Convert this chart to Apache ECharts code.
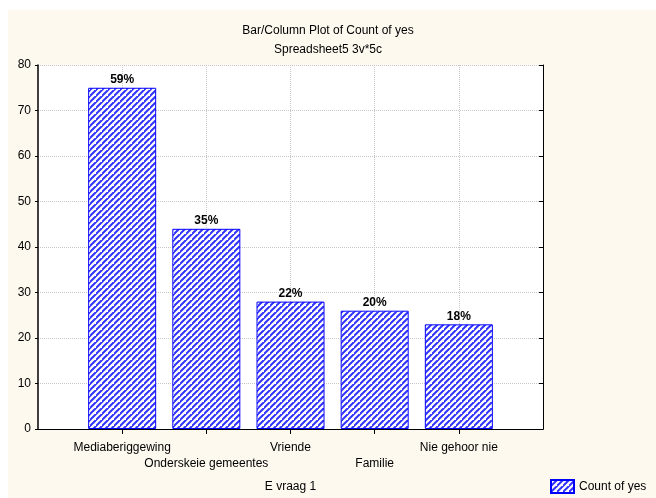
<!DOCTYPE html>
<html>
<head>
<meta charset="utf-8">
<script src="https://cdn.jsdelivr.net/npm/echarts@6/dist/echarts.min.js"></script>
<style>
html,body{margin:0;padding:0;background:#fff;}
#c{width:656px;height:498px;}
</style>
</head>
<body>
<div id="c"></div>
<script>
var categories = ['Mediaberiggewing', 'Onderskeie gemeentes', 'Vriende', 'Familie', 'Nie gehoor nie'];
var counts = [75, 44, 28, 26, 23];
var percentLabels = ['59%', '35%', '22%', '20%', '18%'];
var yTicks = [0, 10, 20, 30, 40, 50, 60, 70, 80];

var axisCats = [''].concat(categories).concat(['']);

function makePattern() {
  var s = 6;
  var cv = document.createElement('canvas');
  cv.width = s; cv.height = s;
  var ctx = cv.getContext('2d');
  ctx.fillStyle = '#ffffff';
  ctx.fillRect(0, 0, s, s);
  ctx.strokeStyle = '#3333ff';
  ctx.lineWidth = 2;
  ctx.beginPath();
  ctx.moveTo(-1, s + 1); ctx.lineTo(s + 1, -1);
  ctx.moveTo(-1 - s, s + 1); ctx.lineTo(1, -1);
  ctx.moveTo(s - 1, 2 * s + 1); ctx.lineTo(2 * s + 1, s - 1);
  ctx.stroke();
  return cv;
}
var pattern = { image: makePattern(), repeat: 'repeat' };

function innerTick(i) { return i > 0 && i < axisCats.length - 1; }

var font = '"Liberation Sans", Arial, sans-serif';
var chart = echarts.init(document.getElementById('c'), null, { renderer: 'canvas' });
chart.setOption({
  backgroundColor: '#ffffff',
  animation: false,
  textStyle: { fontFamily: font },
  graphic: [{
    type: 'rect', z: -10, silent: true,
    shape: { x: 8, y: 10, width: 648, height: 488 },
    style: { fill: '#fdf9ef' }
  }],
  title: {
    text: 'Bar/Column Plot of Count of yes',
    subtext: 'Spreadsheet5 3v*5c',
    left: 'center', top: 24,
    padding: [0, 0, 0, 16],
    itemGap: 5,
    textStyle: { fontSize: 12, fontWeight: 'normal', color: '#000', lineHeight: 14, fontFamily: font },
    subtextStyle: { fontSize: 12, color: '#000', lineHeight: 14, fontFamily: font }
  },
  legend: {
    left: 550, top: 479,
    padding: 0,
    itemWidth: 23, itemHeight: 13, itemGap: 6,
    icon: 'rect',
    textStyle: { fontSize: 12, color: '#000', fontFamily: font },
    data: ['Count of yes']
  },
  grid: {
    left: 38, right: 113, top: 65, bottom: 69,
    outerBoundsMode: 'none',
    containLabel: false,
    show: true, backgroundColor: '#ffffff', borderWidth: 0
  },
  xAxis: [{
    type: 'category', position: 'bottom', data: axisCats, boundaryGap: false,
    name: 'E vraag 1', nameLocation: 'middle', nameGap: 52,
    nameTextStyle: { fontSize: 12, color: '#000', fontFamily: font },
    axisLine: { lineStyle: { color: '#000', width: 1 } },
    axisTick: { inside: true, length: 4, lineStyle: { color: '#000' }, interval: innerTick },
    axisLabel: {
      interval: 0, margin: 11, fontSize: 12, color: '#000', lineHeight: 16, fontFamily: font,
      formatter: function (v, i) { return (i % 2 === 0 && v) ? '\n' + v : v; }
    },
    splitLine: { show: true, interval: innerTick, lineStyle: { color: '#c8c8c8', type: [1, 1] } }
  }, {
    type: 'category', position: 'top', data: axisCats, boundaryGap: false,
    axisLine: { lineStyle: { color: '#000', width: 1 } },
    axisTick: { inside: true, length: 5, lineStyle: { color: '#000' }, interval: innerTick },
    axisLabel: { show: false },
    splitLine: { show: false }
  }],
  yAxis: [{
    type: 'value', position: 'left', min: yTicks[0], max: yTicks[yTicks.length - 1], interval: 10,
    axisLine: { show: true, lineStyle: { color: '#000', width: 1.5 } },
    axisTick: { show: true, inside: false, length: 3, lineStyle: { color: '#000' } },
    axisLabel: { margin: 7, fontSize: 12, color: '#000', fontFamily: font },
    splitLine: { show: true, lineStyle: { color: '#c8c8c8', type: [1, 1] } }
  }, {
    type: 'value', position: 'right', min: yTicks[0], max: yTicks[yTicks.length - 1], interval: 10,
    axisLine: { show: true, lineStyle: { color: '#000', width: 1 } },
    axisTick: { show: true, inside: true, length: 4, lineStyle: { color: '#000' } },
    axisLabel: { show: false },
    splitLine: { show: false }
  }],
  series: [{
    name: 'Count of yes',
    type: 'bar',
    xAxisIndex: 0, yAxisIndex: 0,
    barWidth: 68,
    data: categories.map(function (c, i) { return [c, counts[i]]; }),
    itemStyle: { color: pattern, borderColor: '#0000ff', borderWidth: 1 },
    label: {
      show: true, position: 'top', distance: 2,
      fontSize: 12, fontWeight: 'bold', color: '#000', fontFamily: font,
      formatter: function (p) { return percentLabels[p.dataIndex]; }
    }
  }]
});
</script>
</body>
</html>
